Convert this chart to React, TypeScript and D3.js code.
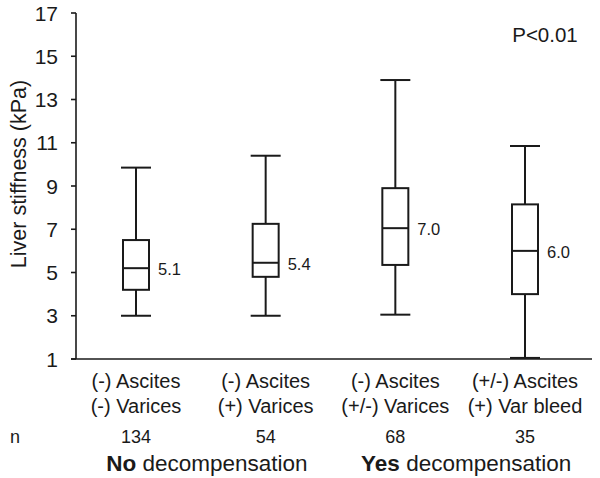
import React from "react";
import * as d3 from "d3";

const categoriesLine1 = ["(-) Ascites", "(-) Ascites", "(-) Ascites", "(+/-) Ascites"];
const categoriesLine2 = ["(-) Varices", "(+) Varices", "(+/-) Varices", "(+) Var bleed"];
const nValues = [134, 54, 68, 35];
const whiskerLow = [3.0, 3.0, 3.05, 1.05];
const q1 = [4.2, 4.8, 5.35, 4.0];
const median = [5.2, 5.45, 7.05, 6.0];
const q3 = [6.5, 7.25, 8.9, 8.15];
const whiskerHigh = [9.85, 10.4, 13.9, 10.85];
const medianLabels = ["5.1", "5.4", "7.0", "6.0"];
const yTicks = [1, 3, 5, 7, 9, 11, 13, 15, 17];
const groupLabels = [
  { bold: "No", rest: " decompensation", members: [0, 1] },
  { bold: "Yes", rest: " decompensation", members: [2, 3] },
];
const pValueText = "P<0.01";
const yAxisTitle = "Liver stiffness (kPa)";

const W = 600;
const H = 478;
const plotLeft = 76;
const plotRight = 592;
const plotTop = 13;
const plotBottom = 359;
const FONT = "Liberation Sans, Arial, Helvetica, sans-serif";
const INK = "#1a1a1a";

export default function App() {
  const idx = categoriesLine1.map((_, i) => String(i));
  const x = d3.scalePoint<string>().domain(idx).range([plotLeft + 60, plotRight - 67]);
  const y = d3.scaleLinear().domain([1, 17]).range([plotBottom, plotTop]);
  const boxHalf = 13;
  const capHalf = 15;

  return (
    <div style={{ position: "absolute", left: 0, top: 0 }}>
      <svg width={W} height={H} style={{ display: "block", background: "#fff" }} fontFamily={FONT}>
        {/* y axis */}
        <line x1={plotLeft} x2={plotLeft} y1={y(17)} y2={y(1)} stroke={INK} strokeWidth={1.6} />
        {yTicks.map((t) => (
          <g key={t}>
            <line x1={plotLeft - 5} x2={plotLeft} y1={y(t)} y2={y(t)} stroke={INK} strokeWidth={1.6} />
            <text x={58} y={y(t)} dy="0.36em" textAnchor="end" fontSize={21} fill={INK}>
              {t}
            </text>
          </g>
        ))}
        {/* x axis */}
        <line x1={plotLeft - 5} x2={plotRight} y1={plotBottom} y2={plotBottom} stroke={INK} strokeWidth={1.6} />
        <text
          transform={`translate(19, ${(y(17) + y(1)) / 2 - 12}) rotate(-90)`}
          textAnchor="middle"
          dominantBaseline="central"
          fontSize={21.5}
          fill={INK}
        >
          {yAxisTitle}
        </text>
        <text x={545} y={42} textAnchor="middle" fontSize={20.5} fill={INK}>
          {pValueText}
        </text>
        {idx.map((k, i) => {
          const cx = x(k) as number;
          return (
            <g key={k} stroke={INK} strokeWidth={2} fill="none">
              <line x1={cx} x2={cx} y1={y(whiskerHigh[i])} y2={y(q3[i])} />
              <line x1={cx} x2={cx} y1={y(q1[i])} y2={y(whiskerLow[i])} />
              <line x1={cx - capHalf} x2={cx + capHalf} y1={y(whiskerHigh[i])} y2={y(whiskerHigh[i])} />
              <line x1={cx - capHalf} x2={cx + capHalf} y1={y(whiskerLow[i])} y2={y(whiskerLow[i])} />
              <rect x={cx - boxHalf} y={y(q3[i])} width={boxHalf * 2} height={y(q1[i]) - y(q3[i])} fill="#fff" />
              <line x1={cx - boxHalf} x2={cx + boxHalf} y1={y(median[i])} y2={y(median[i])} />
              <text x={cx + boxHalf + 9} y={y(median[i]) + 1} dy="0.36em" fontSize={16.5} fill={INK} stroke="none">
                {medianLabels[i]}
              </text>
              <text x={cx} y={388} textAnchor="middle" fontSize={20} fill={INK} stroke="none">
                {categoriesLine1[i]}
              </text>
              <text x={cx} y={413} textAnchor="middle" fontSize={20} fill={INK} stroke="none">
                {categoriesLine2[i]}
              </text>
              <text x={cx} y={443} textAnchor="middle" fontSize={18} fill={INK} stroke="none">
                {nValues[i]}
              </text>
            </g>
          );
        })}
        <text x={10} y={443} fontSize={18} fill={INK}>
          n
        </text>
        {groupLabels.map((g) => {
          const cx = d3.mean(g.members.map((m) => x(String(m)) as number)) as number;
          return (
            <text key={g.bold} x={cx + 6} y={471} textAnchor="middle" fontSize={22.5} fill={INK}>
              <tspan fontWeight="bold">{g.bold}</tspan>
              <tspan>{g.rest}</tspan>
            </text>
          );
        })}
      </svg>
    </div>
  );
}
